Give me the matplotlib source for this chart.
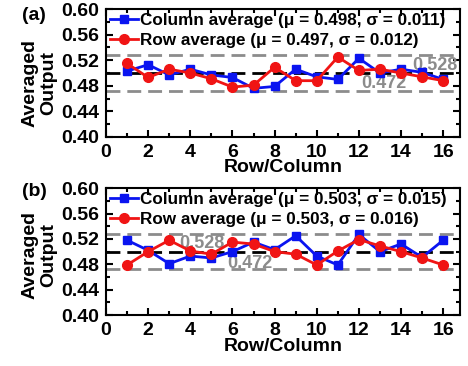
import numpy as np
import matplotlib
matplotlib.use("Agg")
from matplotlib import pyplot as plt
from matplotlib.ticker import MultipleLocator

plt.rcParams['font.family'] = ['Liberation Sans', 'DejaVu Sans']
plt.rcParams['font.weight'] = 'bold'

idx = np.arange(1, 17)

# panel (a)
col_a = [0.503, 0.513, 0.497, 0.506, 0.497, 0.493, 0.476, 0.479,
         0.506, 0.494, 0.490, 0.523, 0.500, 0.506, 0.501, 0.490]
row_a = [0.515, 0.493, 0.506, 0.500, 0.491, 0.478, 0.481, 0.509,
         0.488, 0.488, 0.525, 0.504, 0.506, 0.500, 0.494, 0.488]
# panel (b)
col_b = [0.518, 0.502, 0.481, 0.493, 0.490, 0.500, 0.515, 0.503,
         0.525, 0.493, 0.479, 0.527, 0.500, 0.512, 0.491, 0.518]
row_b = [0.479, 0.500, 0.518, 0.501, 0.496, 0.515, 0.512, 0.500,
         0.496, 0.479, 0.501, 0.519, 0.509, 0.500, 0.490, 0.479]

stats_a = {'col': (0.498, 0.011), 'row': (0.497, 0.012)}
stats_b = {'col': (0.503, 0.015), 'row': (0.503, 0.016)}

upper, mid, lower = 0.528, 0.50, 0.472

fig = plt.figure(figsize=(4.68, 3.66), dpi=100)


def draw_panel(rect, col, row, stats, tag, tag_y, ylab_y, txt_pos):
    ax = fig.add_axes(rect)
    ax.axhline(upper, color='#8c8c8c', lw=2, ls=(0, (5, 2.5)), zorder=1)
    ax.axhline(lower, color='#8c8c8c', lw=2, ls=(0, (5, 2.5)), zorder=1)
    ax.axhline(mid, color='black', lw=2, ls=(0, (5, 2.5)), zorder=1)
    ax.plot(idx, col, color='#0a14f0', lw=2, marker='s', ms=6,
            label='Column average (\u03bc = %.3f, \u03c3 = %.3f)' % stats['col'], zorder=3)
    ax.plot(idx, row, color='#f01414', lw=2, marker='o', ms=7,
            label='Row average (\u03bc = %.3f, \u03c3 = %.3f)' % stats['row'], zorder=3)
    (x1, y1), (x2, y2) = txt_pos
    ax.text(x1, y1, '0.528', color='#8c8c8c', fontsize=13, fontweight='bold',
            ha='center', va='center', zorder=2)
    ax.text(x2, y2, '0.472', color='#8c8c8c', fontsize=13, fontweight='bold',
            ha='center', va='center', zorder=2)

    ax.set_xlim(0, 16.8)
    ax.set_ylim(0.40, 0.60)
    ax.xaxis.set_major_locator(MultipleLocator(2))
    ax.xaxis.set_minor_locator(MultipleLocator(1))
    ax.yaxis.set_major_locator(MultipleLocator(0.04))
    ax.yaxis.set_minor_locator(MultipleLocator(0.02))
    ax.yaxis.set_major_formatter(plt.FormatStrFormatter('%.2f'))
    ax.tick_params(which='both', direction='in', top=True, right=True, width=1.5)
    ax.tick_params(which='major', length=5, labelsize=14)
    ax.tick_params(axis='x', which='major', pad=5)
    ax.tick_params(axis='y', which='major', pad=5)
    ax.tick_params(which='minor', length=3)
    for lab in ax.get_xticklabels() + ax.get_yticklabels():
        lab.set_fontweight('bold')
    for s in ax.spines.values():
        s.set_linewidth(1.5)
    ax.set_xlabel('Row/Column', fontsize=14, fontweight='bold', labelpad=-1)
    ax.set_ylabel('Averaged\nOutput', fontsize=14, fontweight='bold',
                  linespacing=1.15)
    ax.yaxis.set_label_coords(-0.138, ylab_y)
    ax.legend(loc='upper left', frameon=False, handlelength=1.6,
              handletextpad=0.15, borderaxespad=0.0, labelspacing=0.25,
              borderpad=0.25, prop={'weight': 'bold', 'size': 12.3})
    fig.text(22 / 468, tag_y, tag, fontsize=14, fontweight='bold',
             ha='left', va='center')
    return ax


draw_panel([0.2265, 0.626, 0.7565, 0.349], col_a, row_a, stats_a, '(a)',
           1 - 15 / 366, 0.42, [(15.6, 0.512), (13.2, 0.484)])
draw_panel([0.2265, 0.139, 0.7565, 0.347], col_b, row_b, stats_b, '(b)',
           1 - 191 / 366, 0.47, [(4.55, 0.513), (6.85, 0.482)])

fig.savefig('out.png', dpi=100)
